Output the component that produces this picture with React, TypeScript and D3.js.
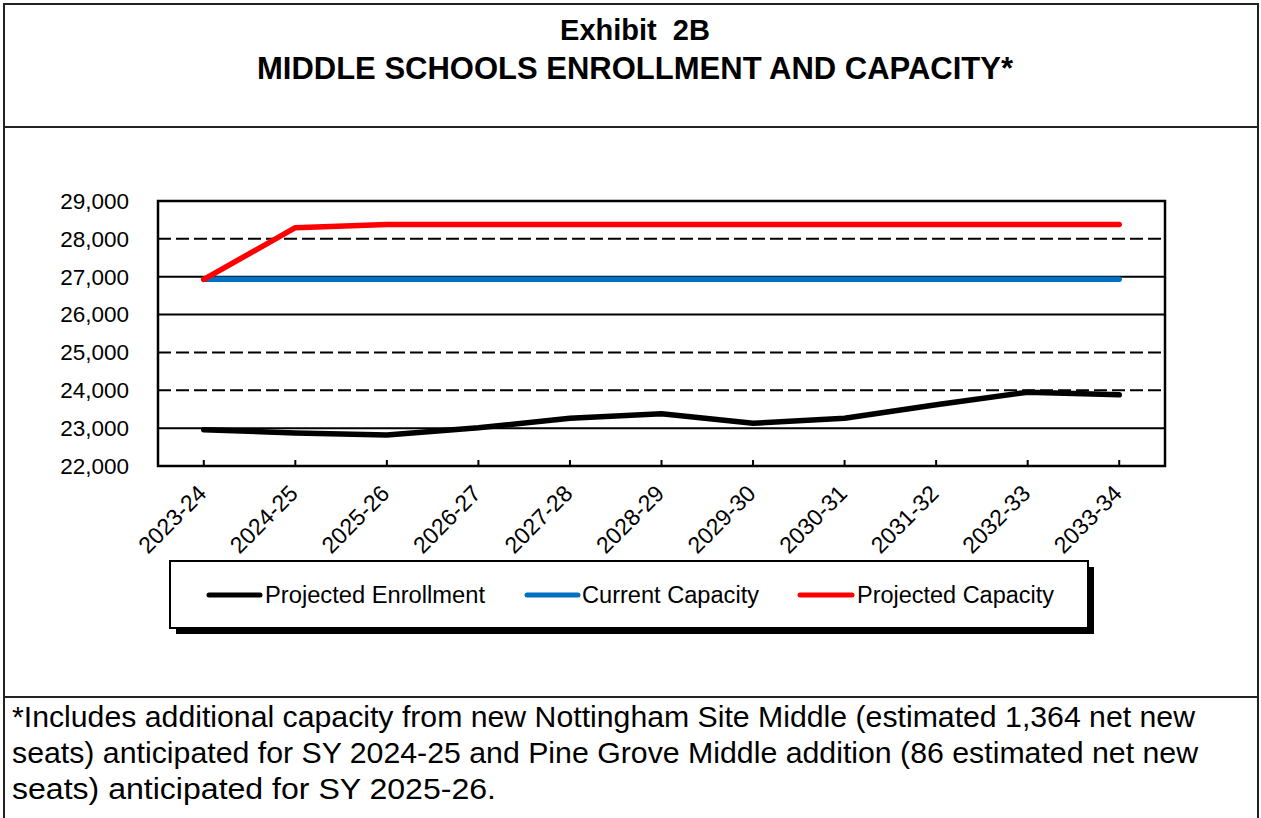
import React from "react";
import * as d3 from "d3";

const categories = ["2023-24", "2024-25", "2025-26", "2026-27", "2027-28", "2028-29", "2029-30", "2030-31", "2031-32", "2032-33", "2033-34"];
const projectedEnrollment = [22960, 22870, 22820, 23010, 23260, 23380, 23130, 23260, 23620, 23950, 23880];
const currentCapacity = [26930, 26930, 26930, 26930, 26930, 26930, 26930, 26930, 26930, 26930, 26930];
const projectedCapacity = [26930, 28294, 28380, 28380, 28380, 28380, 28380, 28380, 28380, 28380, 28380];
const yTicks = [22000, 23000, 24000, 25000, 26000, 27000, 28000, 29000];
const dashedTicks = [24000, 25000, 28000];
const seriesNames = ["Projected Enrollment", "Current Capacity", "Projected Capacity"];
const seriesColors = ["#000000", "#0070C0", "#FF0000"];
const titleLines = ["Exhibit  2B", "MIDDLE SCHOOLS ENROLLMENT AND CAPACITY*"];
const footnoteLines = [
  "*Includes additional capacity from new Nottingham Site Middle (estimated 1,364 net new",
  "seats) anticipated for SY 2024-25 and Pine Grove Middle addition (86 estimated net new",
  "seats) anticipated for SY 2025-26.",
];

const FONT = "'Liberation Sans', Arial, Helvetica, sans-serif";

export default function App() {
  const W = 1261, H = 818;
  const plot = { left: 158, right: 1165, top: 201, bottom: 466 };
  const x = d3.scaleBand<string>().domain(categories).range([plot.left, plot.right]);
  const cx = (c: string) => (x(c) as number) + x.bandwidth() / 2;
  const y = d3.scaleLinear().domain([22000, 29000]).range([plot.bottom, plot.top]);
  const fmt = d3.format(",");
  const line = d3.line<number>().x((_, i) => cx(categories[i])).y((v) => y(v));
  const allSeries = [projectedEnrollment, currentCapacity, projectedCapacity];

  const legendX = 170, legendY = 561, legendW = 918, legendH = 67;
  const legendItems = [
    { x1: 209, x2: 260, tx: 265, tl: 220 },
    { x1: 527, x2: 578, tx: 582, tl: 177 },
    { x1: 800, x2: 852, tx: 857, tl: 197 },
  ];
  const footLens = [1183, 1186, 484];
  const titleSizes = [29, 31];

  return (
    <svg width={W} height={H} style={{ position: "absolute", left: 0, top: 0, background: "#fff" }} fontFamily={FONT}>
      <rect x={0} y={0} width={W} height={H} fill="#fff" />
      {/* outer frame */}
      <rect x={4} y={4} width={1254} height={830} fill="none" stroke="#222" strokeWidth={2} />
      <line x1={4} x2={1258} y1={127} y2={127} stroke="#222" strokeWidth={2} />
      <line x1={4} x2={1258} y1={697} y2={697} stroke="#222" strokeWidth={2} />

      {/* title */}
      {titleLines.map((t, i) => (
        <text key={i} x={635} y={40 + i * 39} textAnchor="middle" fontWeight="bold" fontSize={titleSizes[i]} fill="#000" style={{ whiteSpace: "pre" }}>
          {t}
        </text>
      ))}

      {/* gridlines */}
      {yTicks.filter((t) => t > 22000 && t < 29000).map((t) => (
        <line key={t} x1={plot.left} x2={plot.right} y1={y(t)} y2={y(t)} stroke="#000" strokeWidth={2}
          strokeDasharray={dashedTicks.includes(t) ? "13,5" : undefined} />
      ))}

      {/* plot border */}
      <rect x={plot.left} y={plot.top} width={plot.right - plot.left} height={plot.bottom - plot.top} fill="none" stroke="#000" strokeWidth={2.5} />

      {/* x ticks (inside) */}
      {categories.map((c) => (
        <line key={c} x1={cx(c)} x2={cx(c)} y1={plot.bottom} y2={plot.bottom - 6} stroke="#000" strokeWidth={2} />
      ))}

      {/* y labels */}
      {yTicks.map((t) => (
        <text key={t} x={129} y={y(t)} dy="0.35em" textAnchor="end" fontSize={22.5} fill="#000">{fmt(t)}</text>
      ))}

      {/* x labels */}
      {categories.map((c) => (
        <text key={c} transform={`translate(${cx(c) + 4},${495}) rotate(-45)`} textAnchor="end" fontSize={23} fill="#000">{c}</text>
      ))}

      {/* series */}
      {allSeries.map((s, i) => (
        <path key={i} d={line(s) as string} fill="none" stroke={seriesColors[i]} strokeWidth={5.5} strokeLinejoin="round" strokeLinecap="round" />
      ))}

      {/* legend */}
      <rect x={legendX + 6} y={legendY + 6} width={legendW} height={legendH} fill="#000" />
      <rect x={legendX} y={legendY} width={legendW} height={legendH} fill="#fff" stroke="#000" strokeWidth={2} />
      {legendItems.map((it, i) => (
        <g key={i}>
          <line x1={it.x1} x2={it.x2} y1={595} y2={595} stroke={seriesColors[i]} strokeWidth={5} strokeLinecap="round" />
          <text x={it.tx} y={603} fontSize={23.5} fill="#000" textLength={it.tl} lengthAdjust="spacingAndGlyphs">{seriesNames[i]}</text>
        </g>
      ))}

      {/* footnote */}
      {footnoteLines.map((t, i) => (
        <text key={i} x={12} y={727 + i * 36} fontSize={29} fill="#000" textLength={footLens[i]} lengthAdjust="spacingAndGlyphs">{t}</text>
      ))}
    </svg>
  );
}
